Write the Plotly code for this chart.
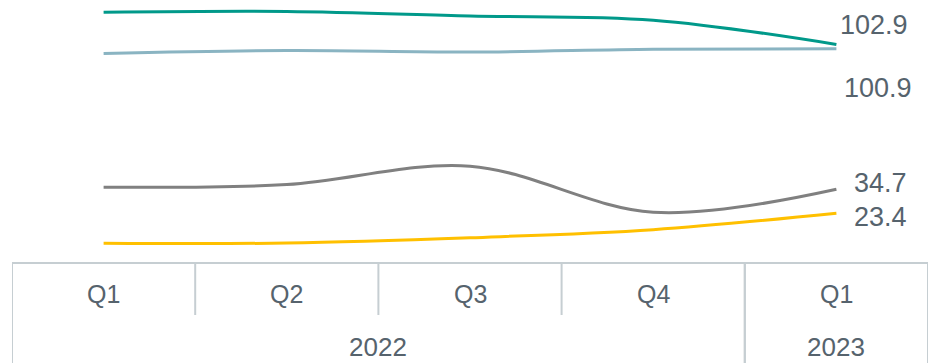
import plotly.graph_objects as go

# ---- data ----
categories = ["2022 Q1", "2022 Q2", "2022 Q3", "2022 Q4", "2023 Q1"]
quarter_labels = ["Q1", "Q2", "Q3", "Q4", "Q1"]
year_labels = ["2022", "2022", "2022", "2022", "2023"]

teal = [118.0, 118.4, 116.3, 114.3, 102.9]
lightblue = [98.6, 100.0, 99.3, 100.6, 100.9]
grey = [35.7, 36.9, 45.6, 23.9, 34.7]
yellow = [9.3, 9.4, 11.9, 15.7, 23.4]

series = [
    ("teal", teal, "#00998a", 38, 19),
    ("lightblue", lightblue, "#8ab4c2", 42, -39),
    ("grey", grey, "#808080", 44, 6),
    ("yellow", yellow, "#ffc000", 44, -4),
]

text_color = "#56636d"
rule_color = "#c6ced2"
FONT = "Liberation Sans, Arial, sans-serif"

fig = go.Figure()
for name, vals, color, _, _ in series:
    fig.add_trace(go.Scatter(
        x=categories, y=vals, mode="lines", name=name,
        line=dict(color=color, width=3, shape="spline"),
        hoverinfo="skip",
    ))

annotations = []
# end-value labels
for name, vals, color, xshift, yshift in series:
    annotations.append(dict(
        x=len(categories) - 1, y=vals[-1], xref="x", yref="y",
        text=f"{vals[-1]:.1f}", showarrow=False,
        xanchor="center", yanchor="middle", xshift=xshift, yshift=yshift,
        font=dict(family=FONT, size=27, color=text_color),
    ))

plot_h = 263.0
q_y = -(294 - plot_h) / plot_h
yr_y = -(347 - plot_h) / plot_h
div_q = -(315 - plot_h) / plot_h
div_full = -(363 - plot_h) / plot_h

# quarter labels
for i, q in enumerate(quarter_labels):
    annotations.append(dict(
        x=i, y=q_y, xref="x", yref="paper", text=q, showarrow=False,
        xanchor="center", yanchor="middle",
        font=dict(family=FONT, size=25, color=text_color),
    ))

# year groups
groups = []
for i, y in enumerate(year_labels):
    if groups and groups[-1][0] == y:
        groups[-1][2] = i
    else:
        groups.append([y, i, i])

shapes = []
for y, a, b in groups:
    annotations.append(dict(
        x=(a + b) / 2, y=yr_y, xref="x", yref="paper", text=y, showarrow=False,
        xanchor="center", yanchor="middle",
        font=dict(family=FONT, size=26, color=text_color),
    ))
    for edge in (a - 0.5, b + 0.5):
        shapes.append(dict(type="line", xref="x", yref="paper",
                           x0=edge, x1=edge, y0=0, y1=div_full,
                           line=dict(color=rule_color, width=2)))
    for k in range(a, b):
        shapes.append(dict(type="line", xref="x", yref="paper",
                           x0=k + 0.5, x1=k + 0.5, y0=0, y1=div_q,
                           line=dict(color=rule_color, width=2)))

shapes.append(dict(type="line", xref="x", yref="paper",
                   x0=-0.5, x1=len(categories) - 0.5, y0=0, y1=0,
                   line=dict(color=rule_color, width=2)))

fig.update_layout(
    width=928, height=363,
    margin=dict(l=12, r=0, t=0, b=100),
    paper_bgcolor="white", plot_bgcolor="white",
    showlegend=False,
    xaxis=dict(type="category", range=[-0.5, len(categories) - 0.5],
               showticklabels=False, showgrid=False, zeroline=False,
               showline=False, ticks=""),
    yaxis=dict(range=[0, 123.8], visible=False, showgrid=False, zeroline=False),
    annotations=annotations,
    shapes=shapes,
)

fig.write_html("out.html")
